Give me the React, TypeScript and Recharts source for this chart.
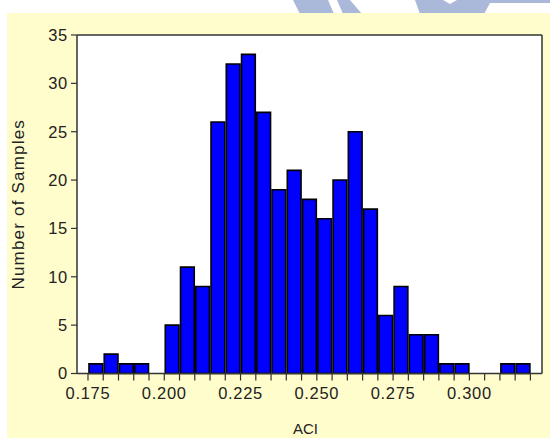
import React from "react";
import { ComposedChart, Bar, XAxis, YAxis, CartesianGrid, ReferenceLine } from "recharts";

// histogram bins (left edge of each 0.005-wide bin) and the sample counts in them
const binStart = [
  0.175, 0.18, 0.185, 0.19, 0.195, 0.2, 0.205, 0.21, 0.215, 0.22, 0.225, 0.23, 0.235, 0.24, 0.245,
  0.25, 0.255, 0.26, 0.265, 0.27, 0.275, 0.28, 0.285, 0.29, 0.295, 0.3, 0.305, 0.31, 0.315,
];
const sampleCounts = [
  1, 2, 1, 1, 0, 5, 11, 9, 26, 32, 33, 27, 19, 21, 18, 16, 20, 25, 17, 6, 9, 4, 4, 1, 1, 0, 0, 1, 1,
];
const binWidth = 0.005;
const xLabelTicks = [0.175, 0.2, 0.225, 0.25, 0.275, 0.3];
const yTicks = [0, 5, 10, 15, 20, 25, 30, 35];

const X_MIN = 0.1714;
const X_MAX = 0.3238;
const Y_MAX = 35;

// bars sit on the bin centre of a numeric axis
const data = binStart.map((bin, i) => ({ mid: bin + binWidth / 2, count: sampleCounts[i] }));
const xTicks = [...binStart, binStart[binStart.length - 1] + binWidth];

const W = 550;
const H = 438;
const margin = { top: 35, right: 8, bottom: 0, left: 0 };
const yAxisW = 77;
const xAxisH = 64.5;
const plotW = W - margin.left - margin.right - yAxisW;
const barPx = (binWidth * plotW) / (X_MAX - X_MIN);

const FONT = "'Liberation Sans', Arial, sans-serif";
const INK = "#222";
const FRAME = "#333";

const fmtX = (v: number) =>
  xLabelTicks.some((m) => Math.abs(m - v) < 1e-9) ? v.toFixed(3) : "";

export default function App() {
  return (
    <div style={{ position: "absolute", left: 0, top: 0, width: W, height: H, background: "#fff", fontFamily: FONT }}>
      <svg width={W} height={14} style={{ position: "absolute", left: 0, top: 0 }}>
        <g fill="#aab8da">
          <polygon points="293,0 328,0 334,14 300,14" />
          <polygon points="337,0 350,0 362,14 343,14" />
          <polygon points="415,0 443,0 450,4 457,0 550,0 550,3 490,3 484,14 420,14" />
        </g>
      </svg>
      <div style={{ position: "absolute", left: 7, top: 13, width: W - 7, height: H - 13, background: "#fffdcc" }} />
      <div style={{ position: "absolute", left: 0, top: 0 }}>
        <ComposedChart width={W} height={H} data={data} margin={margin}>
          <CartesianGrid horizontal={false} vertical={false} fill="#ffffff" />
          <XAxis
            dataKey="mid"
            type="number"
            domain={[X_MIN, X_MAX]}
            allowDataOverflow
            ticks={xTicks}
            interval={0}
            tickFormatter={fmtX}
            height={xAxisH}
            tickSize={7}
            tickMargin={7}
            axisLine={{ stroke: FRAME, strokeWidth: 1.5 }}
            tickLine={{ stroke: FRAME, strokeWidth: 1.2 }}
            tick={{ fill: INK, fontSize: 16.5, letterSpacing: 0.7, fontFamily: FONT }}
            label={{ value: "ACI", position: "insideBottom", offset: 4, dx: -4, style: { fill: INK, fontSize: 15, fontFamily: FONT } }}
          />
          <YAxis
            type="number"
            domain={[0, Y_MAX]}
            ticks={yTicks}
            interval={0}
            width={yAxisW}
            tickSize={6}
            tickMargin={3}
            axisLine={{ stroke: FRAME, strokeWidth: 1.5 }}
            tickLine={{ stroke: FRAME, strokeWidth: 1.2 }}
            tick={{ fill: INK, fontSize: 16.5, letterSpacing: 0.7, fontFamily: FONT }}
            label={{
              value: "Number of Samples",
              angle: -90,
              position: "insideLeft",
              offset: 18,
              style: { textAnchor: "middle", fill: INK, fontSize: 17, letterSpacing: 1.2, fontFamily: FONT },
            }}
          />
          <Bar
            dataKey="count"
            barSize={barPx}
            fill="#0000ff"
            stroke="#000"
            strokeWidth={1.6}
            isAnimationActive={false}
          />
          {/* top and right edges of the plot frame */}
          <ReferenceLine y={Y_MAX} stroke={FRAME} strokeWidth={1.5} ifOverflow="extendDomain" />
          <ReferenceLine x={X_MAX} stroke={FRAME} strokeWidth={1.5} ifOverflow="extendDomain" />
        </ComposedChart>
      </div>
    </div>
  );
}
